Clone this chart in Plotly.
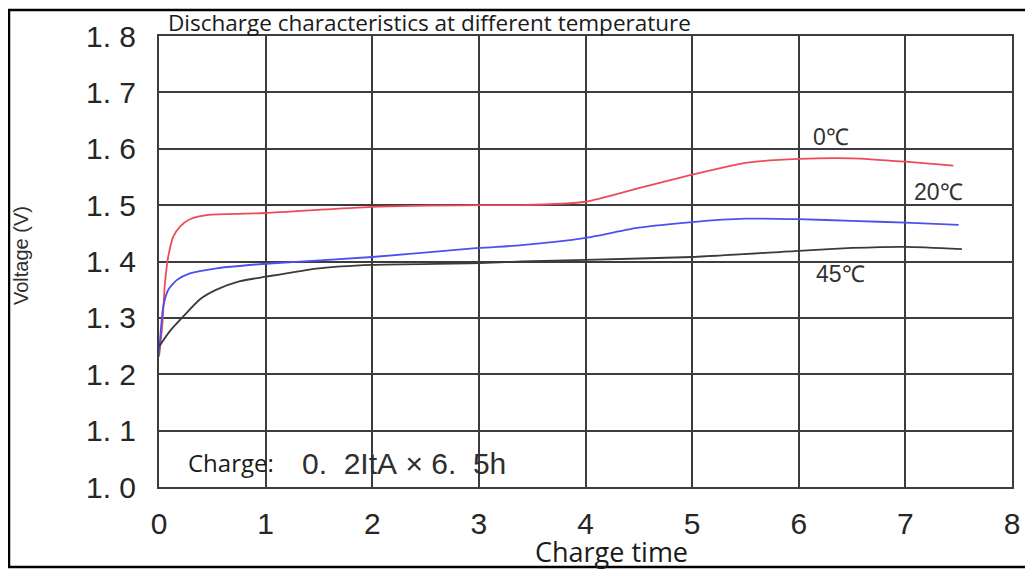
import plotly.graph_objects as go

# Data
x_0c = [0, 0.03, 0.056, 0.087, 0.134, 0.197, 0.29, 0.48, 1.0, 2.0, 3.0, 3.4, 4.0, 4.5, 5.0, 5.5, 6.0, 6.5, 7.0, 7.45]
v_0c = [1.231, 1.285, 1.362, 1.409, 1.444, 1.462, 1.475, 1.483, 1.486, 1.497, 1.500, 1.500, 1.506, 1.530, 1.554, 1.575, 1.582, 1.583, 1.577, 1.570]

x_20c = [0, 0.02, 0.04, 0.087, 0.166, 0.29, 0.54, 1.0, 2.0, 3.0, 3.4, 4.0, 4.5, 5.0, 5.5, 6.0, 6.5, 7.0, 7.5]
v_20c = [1.235, 1.285, 1.32, 1.35, 1.367, 1.379, 1.388, 1.396, 1.408, 1.424, 1.429, 1.442, 1.460, 1.470, 1.476, 1.475, 1.472, 1.469, 1.465]

x_45c = [0, 0.1, 0.23, 0.385, 0.54, 0.76, 1.0, 1.5, 2.0, 3.0, 3.4, 4.0, 5.0, 6.0, 6.5, 7.0, 7.53]
v_45c = [1.249, 1.276, 1.303, 1.333, 1.350, 1.365, 1.373, 1.388, 1.394, 1.397, 1.400, 1.403, 1.408, 1.419, 1.424, 1.426, 1.422]

x_ticks = [0, 1, 2, 3, 4, 5, 6, 7, 8]
y_ticks = [1.0, 1.1, 1.2, 1.3, 1.4, 1.5, 1.6, 1.7, 1.8]
y_ticktext = ["1. 0", "1. 1", "1. 2", "1. 3", "1. 4", "1. 5", "1. 6", "1. 7", "1. 8"]

series = [
    ("0", x_0c, v_0c, "#ee4b58"),
    ("20", x_20c, v_20c, "#4f4ff0"),
    ("45", x_45c, v_45c, "#3a3a3a"),
]

fig = go.Figure()
for name, xs, ys, col in series:
    fig.add_trace(go.Scatter(x=xs, y=ys, mode="lines", name=name + "℃",
                             line=dict(color=col, width=1.8, shape="spline", smoothing=0.6),
                             showlegend=False))

OFF = 8  # page body margin
W, H = 1033 - OFF, 569 - OFF
L, R, T, B = 159 - OFF, 1033 - 1012, 36 - OFF, 569 - 487
pw, ph = W - L - R, H - T - B

def px(xp):
    return (xp - OFF - L) / pw

def py(yp):
    return (H - B - (yp - OFF)) / ph

grid_col = "#3c3c3c"
tick_font = dict(family="Liberation Sans, Arial", size=30, color="#262626")

fig.update_xaxes(range=[0, 8], tickvals=x_ticks, ticktext=[str(t) for t in x_ticks],
                 showgrid=True, gridcolor=grid_col, gridwidth=2,
                 showline=True, linecolor=grid_col, linewidth=2, mirror=True,
                 zeroline=False, ticks="", tickfont=tick_font, ticklabelstandoff=9)
fig.update_yaxes(range=[1.0, 1.8], tickvals=y_ticks, ticktext=y_ticktext,
                 showgrid=True, gridcolor=grid_col, gridwidth=2,
                 showline=True, linecolor=grid_col, linewidth=2, mirror=True,
                 zeroline=False, ticks="", tickfont=tick_font, ticklabelstandoff=15)

ann = []
ann.append(dict(text="Discharge characteristics at different temperature", x=px(166), y=py(22),
                xref="paper", yref="paper", xanchor="left", yanchor="middle", showarrow=False,
                font=dict(family="Open Sans", size=22.5, color="#1a1a1a")))
ann.append(dict(text="Voltage (V)", x=px(21), y=py(256), xref="paper", yref="paper",
                xanchor="center", yanchor="middle", textangle=-90, showarrow=False,
                font=dict(family="Liberation Sans, Arial", size=20, color="#2e2e2e")))
ann.append(dict(text="Charge time", x=px(611), y=py(551), xref="paper", yref="paper",
                xanchor="center", yanchor="middle", showarrow=False,
                font=dict(family="Open Sans", size=27, color="#1a1a1a")))
ann.append(dict(text="Charge:", x=px(186), y=py(462), xref="paper", yref="paper",
                xanchor="left", yanchor="middle", showarrow=False,
                font=dict(family="Open Sans", size=24, color="#1a1a1a")))
ann.append(dict(text="0.\u00a0\u00a02ItA\u00a0×\u00a06.\u00a0\u00a05h", x=px(300), y=py(463), xref="paper", yref="paper",
                xanchor="left", yanchor="middle", showarrow=False,
                font=dict(family="Liberation Sans, Arial", size=30, color="#2e2e2e")))
label_pos = {"0": (831, 137), "20": (938, 192), "45": (840, 274)}
for name, xs, ys, col in series:
    lx, ly = label_pos[name]
    ann.append(dict(text=name + "℃",
                    x=px(lx), y=py(ly), xref="paper", yref="paper",
                    xanchor="center", yanchor="middle", showarrow=False,
                    font=dict(family="Liberation Sans, Arial", size=23, color="#333333")))

fig.update_layout(
    width=W, height=H, margin=dict(l=L, r=R, t=T, b=B),
    paper_bgcolor="white", plot_bgcolor="white",
    annotations=ann,
    shapes=[dict(type="rect", xref="paper", yref="paper",
                 x0=px(9), x1=px(1030), y0=py(567), y1=py(10),
                 line=dict(color="black", width=2.5), fillcolor="rgba(0,0,0,0)", layer="below")],
)

fig.write_html("out.html")
